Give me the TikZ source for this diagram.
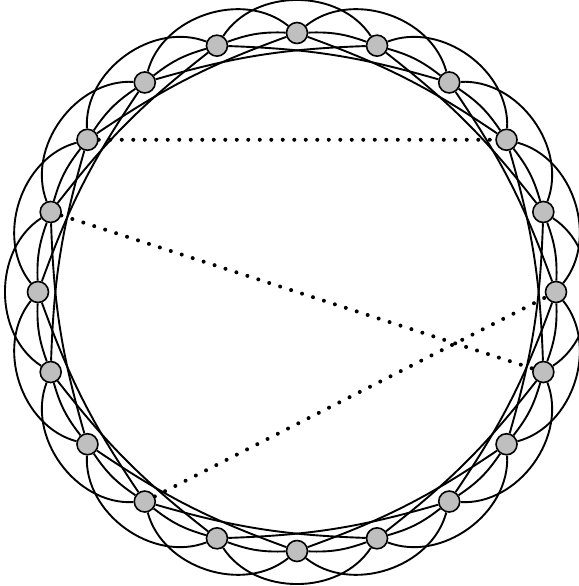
\documentclass[tikz,border=0pt]{standalone}
\begin{document}
\begin{tikzpicture}[x=1pt,y=1pt,
  vtx/.style={circle, draw=black, fill=gray!50, line width=1.6pt, minimum size=21pt, inner sep=0pt},
  edgeline/.style={line width=1.9pt},
  rewired/.style={line width=4pt, line cap=round, dash pattern=on 0pt off 11.5pt}]
\useasboundingbox (0,0) rectangle (578,586);
\foreach \i in {0,...,19} {
  \node[vtx] (n\i) at ({297+259*cos(90-18*\i)}, {294+259*sin(90-18*\i)}) {};
}
\foreach \i in {0,...,19} {
  \pgfmathtruncatemacro\a{mod(\i+1,20)}
  \pgfmathtruncatemacro\b{mod(\i+2,20)}
  \pgfmathtruncatemacro\c{mod(\i+3,20)}
  \draw[edgeline] (n\i) to[bend left=11] (n\a);
  \draw[edgeline] (n\i) to[bend left=57] (n\b);
  \draw[edgeline] (n\i) to[bend left=7] (n\c);
}
\draw[rewired] (n17) -- (n3);
\draw[rewired] (n16) -- (n6);
\draw[rewired] (n12) -- (n5);
\end{tikzpicture}
\end{document}
